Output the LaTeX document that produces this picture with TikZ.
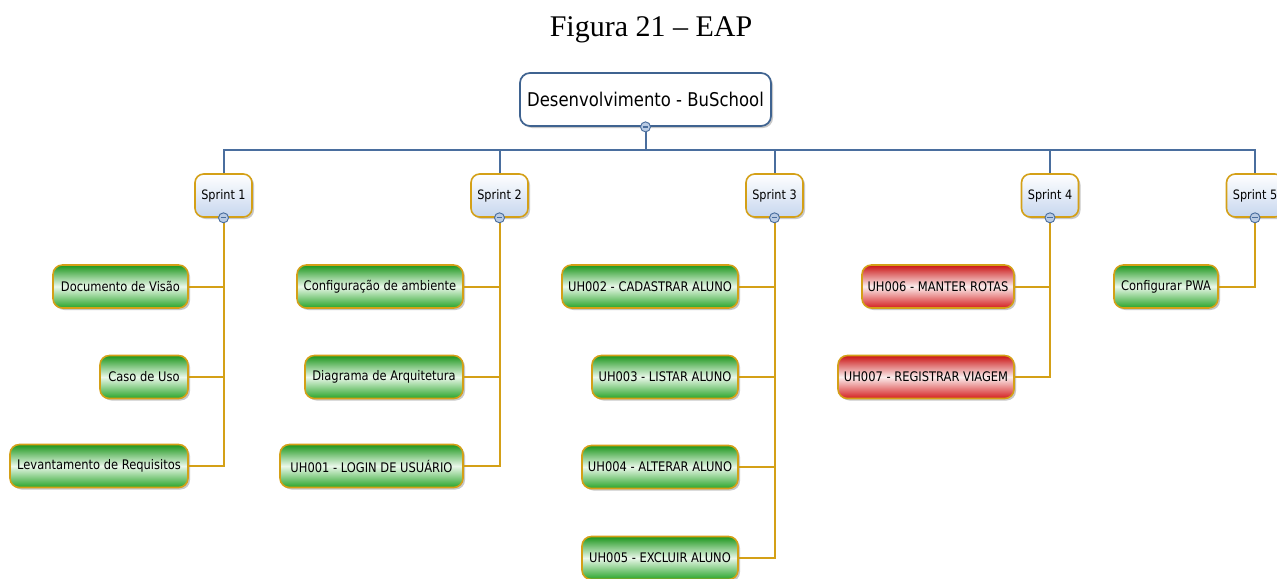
\documentclass[tikz,border=0pt]{standalone}
\usepackage{fontspec}
\setmainfont{Liberation Serif}
\newfontfamily\uifont[FakeStretch=0.87]{DejaVu Sans}
\usetikzlibrary{shadows}
\definecolor{busblue}{HTML}{4A6E9E}
\definecolor{rootblue}{HTML}{3F6390}
\definecolor{gold}{HTML}{D4A017}
\definecolor{gtop}{HTML}{1C961C}
\definecolor{gbot}{HTML}{28A428}
\definecolor{gmid}{HTML}{EAF8EA}
\definecolor{rtop}{HTML}{CA1414}
\definecolor{rbot}{HTML}{D41E1E}
\definecolor{rmid}{HTML}{FBEDED}
\definecolor{sbot}{HTML}{C6D6EE}
\definecolor{cfill}{HTML}{B9CBE4}
\tikzset{
  shad/.style={drop shadow={shadow xshift=1.5pt, shadow yshift=-1.5pt, opacity=0.3, fill=black!70}},
  rootbox/.style={draw=rootblue, line width=1.3pt, rounded corners=7.5pt, fill=white, shad,
    minimum width={251*0.75}, minimum height={53*0.75}, inner sep=0, font=\uifont\fontsize{14.2}{16}\selectfont},
  sprintbox/.style={draw=gold, line width=1.2pt, rounded corners=6.5pt, shad,
    top color=white, bottom color=sbot, minimum width={57*0.75}, minimum height={43*0.75}, inner sep=0,
    font=\uifont\fontsize{9.7}{12}\selectfont},
  leaf/.style={draw=gold, line width=1.2pt, rounded corners=7pt, shad,
    minimum height={43*0.75}, inner sep=0, font=\uifont\fontsize{9.9}{12}\selectfont},
  greenbox/.style={leaf, top color=gtop, bottom color=gbot, middle color=gmid},
  redbox/.style={leaf, top color=rtop, bottom color=rbot, middle color=rmid},
  collapse/.style={circle, draw=busblue, line width=0.7pt, fill=cfill, minimum size=7.5pt, inner sep=0,
    path picture={\draw[busblue, line width=1pt] ([xshift=-2pt]path picture bounding box.center) -- ([xshift=2pt]path picture bounding box.center);}},
  bl/.style={draw=busblue, line width=1.5pt},
  ol/.style={draw=gold, line width=1.5pt},
}
\begin{document}
\begin{tikzpicture}[x=0.75pt, y=-0.75pt]
\fill[white] (0,0) rectangle (1277,578);
\useasboundingbox (0,0) rectangle (1277,578);

\node[font=\fontsize{22.5}{26}\selectfont] (title) at (651,30) {Figura 21 -- EAP};

\node[rootbox] (root) at (645.5,99.5) {Desenvolvimento - BuSchool};

\node[sprintbox] (s1) at (223.5,195.5) {Sprint 1};
\node[sprintbox] (s2) at (499.5,195.5) {Sprint 2};
\node[sprintbox] (s3) at (774.5,195.5) {Sprint 3};
\node[sprintbox] (s4) at (1050,195.5) {Sprint 4};
\node[sprintbox] (s5) at (1255,195.5) {Sprint 5};

\coordinate (bus) at (0,150);

% blue connectors
\draw[bl] (s1.north) |- (s5.north |- bus) -- (s5.north);
\draw[bl] (s2.north) -- (s2.north |- bus);
\draw[bl] (s3.north) -- (s3.north |- bus);
\draw[bl] (s4.north) -- (s4.north |- bus);

% leaves
\node[greenbox, minimum width={135*0.75}] (doc) at (120.5,286.5) {Documento de Visão};
\node[greenbox, minimum width={88*0.75}] (caso) at (144,377) {Caso de Uso};
\node[greenbox, minimum width={178*0.75}] (lev) at (99,466) {Levantamento de Requisitos};

\node[greenbox, minimum width={166*0.75}] (conf) at (380,286.5) {Configuração de ambiente};
\node[greenbox, minimum width={158*0.75}] (diag) at (384,377) {Diagrama de Arquitetura};
\node[greenbox, minimum width={183*0.75}] (uh1) at (371.5,466) {UH001 - LOGIN DE USUÁRIO};

\node[greenbox, minimum width={176*0.75}] (uh2) at (650,286.5) {UH002 - CADASTRAR ALUNO};
\node[greenbox, minimum width={146*0.75}] (uh3) at (665,377) {UH003 - LISTAR ALUNO};
\node[greenbox, minimum width={156*0.75}] (uh4) at (660,467) {UH004 - ALTERAR ALUNO};
\node[greenbox, minimum width={156*0.75}] (uh5) at (660,558) {UH005 - EXCLUIR ALUNO};

\node[redbox, minimum width={152*0.75}] (uh6) at (938,286.5) {UH006 - MANTER ROTAS};
\node[redbox, minimum width={176*0.75}] (uh7) at (926,377) {UH007 - REGISTRAR VIAGEM};

\node[greenbox, minimum width={104*0.75}] (pwa) at (1166,286.5) {Configurar PWA};

% gold connectors
\draw[ol] (s1.south) |- (lev.east);
\draw[ol] (doc.east) -- (doc.east -| s1.south);
\draw[ol] (caso.east) -- (caso.east -| s1.south);

\draw[ol] (s2.south) |- (uh1.east);
\draw[ol] (conf.east) -- (conf.east -| s2.south);
\draw[ol] (diag.east) -- (diag.east -| s2.south);

\draw[ol] (s3.south) |- (uh5.east);
\draw[ol] (uh2.east) -- (uh2.east -| s3.south);
\draw[ol] (uh3.east) -- (uh3.east -| s3.south);
\draw[ol] (uh4.east) -- (uh4.east -| s3.south);

\draw[ol] (s4.south) |- (uh7.east);
\draw[ol] (uh6.east) -- (uh6.east -| s4.south);

\draw[ol] (s5.south) |- (pwa.east);

% collapse buttons
\node[collapse] (c0) at (root.south) {};
\draw[bl] (c0.south) -- (c0.south |- bus);
\node[collapse] (c1) at (s1.south) {};
\node[collapse] (c2) at (s2.south) {};
\node[collapse] (c3) at (s3.south) {};
\node[collapse] (c4) at (s4.south) {};
\node[collapse] (c5) at (s5.south) {};
\end{tikzpicture}
\end{document}
